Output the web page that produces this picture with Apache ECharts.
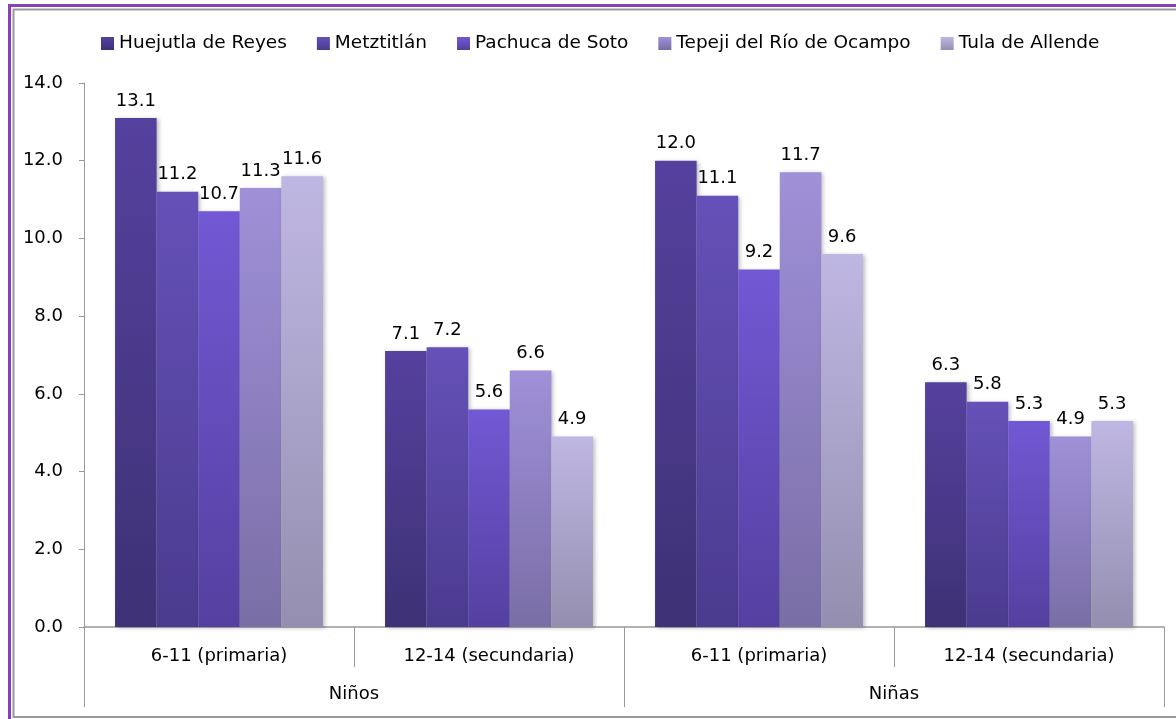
<!DOCTYPE html>
<html>
<head>
<meta charset="utf-8">
<script src="https://cdn.jsdelivr.net/npm/echarts@6/dist/echarts.min.js"></script>
<style>
  html, body { margin: 0; padding: 0; background: #fff; }
  #chart { width: 1176px; height: 719px; }
</style>
</head>
<body>
<div id="chart"></div>
<script>
const ageGroups = ["6-11 (primaria)", "12-14 (secundaria)", "6-11 (primaria)", "12-14 (secundaria)"];
const sexGroups = ["Niños", "Niñas"];

const cities = ["Huejutla de Reyes", "Metztitlán", "Pachuca de Soto", "Tepeji del Río de Ocampo", "Tula de Allende"];
const huejutla = [13.1, 7.1, 12.0, 6.3];
const metztitlan = [11.2, 7.2, 11.1, 5.8];
const pachuca = [10.7, 5.6, 9.2, 5.3];
const tepeji = [11.3, 6.6, 11.7, 4.9];
const tula = [11.6, 4.9, 9.6, 5.3];

const yTicks = [0, 2, 4, 6, 8, 10, 12, 14];

// top / bottom colours of each bar gradient
const barColors = [
  ["#55419e", "#3e3175"],
  ["#6551b8", "#4b3b8e"],
  ["#7258d4", "#5540a0"],
  ["#9f90d8", "#7a6ea6"],
  ["#bfb7e3", "#948fb0"],
];

const FONT = "DejaVu Sans";
const chart = echarts.init(document.getElementById("chart"));

function makeSeries(name, values, idx) {
  return {
    name: name,
    type: "bar",
    data: values,
    xAxisIndex: 0,
    barGap: "0%",
    barCategoryGap: "23%",
    itemStyle: {
      color: new echarts.graphic.LinearGradient(0, 0, 0, 1, [
        { offset: 0, color: barColors[idx][0] },
        { offset: 1, color: barColors[idx][1] },
      ]),
      shadowColor: "rgba(0,0,0,0.25)",
      shadowBlur: 4,
      shadowOffsetX: 2,
      shadowOffsetY: 1,
    },
    label: {
      show: true,
      position: "top",
      distance: 8,
      color: "#000",
      fontFamily: FONT,
      fontSize: 18,
      formatter: (p) => p.value.toFixed(1),
    },
  };
}

chart.setOption({
  animation: false,
  backgroundColor: "#fff",
  graphic: [
    {
      type: "rect",
      shape: { x: 9.5, y: 5.5, width: 1200, height: 740 },
      style: { fill: "none", stroke: "#8a3fb8", lineWidth: 3 },
      silent: true,
    },
    {
      type: "rect",
      shape: { x: 13.5, y: 9.5, width: 1200, height: 707.5 },
      style: { fill: "none", stroke: "#9a9a9a", lineWidth: 2 },
      silent: true,
    },
  ],
  legend: {
    top: 29,
    left: 96,
    itemWidth: 13,
    itemHeight: 13,
    itemGap: 30,
    icon: "rect",
    textStyle: { fontFamily: FONT, fontSize: 18.5, color: "#000" },
    data: cities,
  },
  grid: {
    left: 84,
    right: 12,
    top: 83,
    bottom: 92,
  },
  xAxis: [
    {
      type: "category",
      data: ageGroups,
      position: "bottom",
      axisLine: { show: true, lineStyle: { color: "#999", width: 1.5 } },
      axisTick: { show: true, interval: 0, length: 40, lineStyle: { color: "#999" } },
      axisLabel: { interval: 0, margin: 20, color: "#000", fontFamily: FONT, fontSize: 18 },
    },
    {
      type: "category",
      data: sexGroups,
      position: "bottom",
      offset: 0,
      axisLine: { show: false },
      axisTick: { show: true, interval: 0, length: 80, lineStyle: { color: "#999" } },
      axisLabel: { interval: 0, margin: 58, color: "#000", fontFamily: FONT, fontSize: 18 },
    },
  ],
  yAxis: {
    type: "value",
    min: yTicks[0],
    max: yTicks[yTicks.length - 1],
    interval: 2,
    axisLine: { show: true, lineStyle: { color: "#999" } },
    axisTick: { show: true, length: 5, lineStyle: { color: "#999" } },
    splitLine: { show: false },
    axisLabel: {
      margin: 21,
      color: "#000",
      fontFamily: FONT,
      fontSize: 18,
      formatter: (v) => v.toFixed(1),
    },
  },
  series: [
    makeSeries(cities[0], huejutla, 0),
    makeSeries(cities[1], metztitlan, 1),
    makeSeries(cities[2], pachuca, 2),
    makeSeries(cities[3], tepeji, 3),
    makeSeries(cities[4], tula, 4),
  ],
});

window.addEventListener("resize", () => chart.resize());
</script>
</body>
</html>
